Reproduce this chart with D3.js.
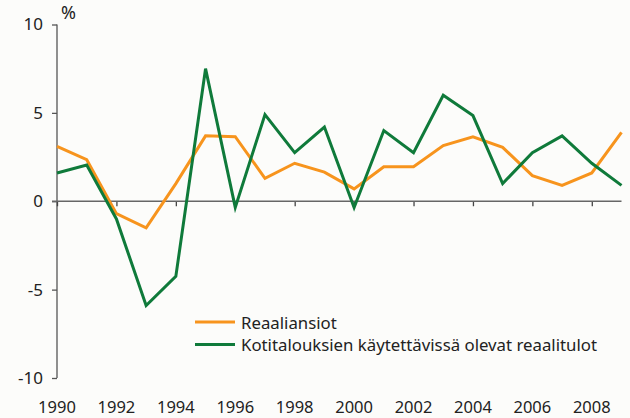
<!DOCTYPE html>
<html>
<head>
<meta charset="utf-8">
<script src="https://cdn.jsdelivr.net/npm/d3@7"></script>
<style>
  html, body { margin: 0; padding: 0; background: #fcfcfa; }
  svg { display: block; }
</style>
</head>
<body>
<div id="chart"></div>
<script>
// values
const years = d3.range(1990, 2010);
const reaaliansiot = [3.1, 2.35, -0.7, -1.5, 1.0, 3.7, 3.65, 1.3, 2.15, 1.65,
                      0.7, 1.95, 1.95, 3.15, 3.65, 3.05, 1.45, 0.9, 1.6, 3.9];
const reaalitulot = [1.6, 2.05, -1.0, -5.9, -4.25, 7.5, -0.35, 4.9, 2.75, 4.2,
                     -0.35, 4.0, 2.75, 6.0, 4.85, 1.0, 2.75, 3.7, 2.15, 0.9];
const yTicks = [-10, -5, 0, 5, 10];
const xTicks = d3.range(1990, 2009, 2);
const seriesNames = ["Reaaliansiot", "Kotitalouksien käytettävissä olevat reaalitulot"];
const seriesColors = ["#f7941d", "#0f7a3a"];

const width = 630, height = 418;
const margin = {top: 24.5, right: 8, bottom: 40, left: 57};

const svg = d3.select("#chart")
    .append("svg")
    .attr("width", width)
    .attr("height", height)
    .style("font-family", "'Noto Sans', sans-serif");

const x = d3.scaleLinear()
    .domain([1990, 2009])
    .range([margin.left, 621.5]);
const y = d3.scaleLinear()
    .domain([-10, 10])
    .range([378, 24.5]);

// y axis
const yAxis = svg.append("g")
    .attr("transform", `translate(${margin.left},0)`)
    .call(d3.axisLeft(y).tickValues(yTicks).tickSize(5).tickPadding(9)
        .tickFormat(d => String(d)));
yAxis.select(".domain").remove();
yAxis.append("line")
    .attr("x1", 0).attr("x2", 0)
    .attr("y1", y(10)).attr("y2", y(-10))
    .attr("stroke", "#555").attr("stroke-width", 1.3);
yAxis.selectAll(".tick line").attr("stroke", "#555").attr("stroke-width", 1.3);
yAxis.selectAll(".tick text")
    .style("font-size", "17px")
    .attr("fill", "#222")
    .attr("font-family", "'Noto Sans', sans-serif");

// x axis along zero line
const xAxis = svg.append("g")
    .attr("transform", `translate(0,${y(0)})`)
    .call(d3.axisBottom(x).tickValues(xTicks).tickSize(5).tickFormat(d3.format("d")));
xAxis.select(".domain").remove();
xAxis.append("line")
    .attr("x1", margin.left - 5).attr("x2", x(2009))
    .attr("stroke", "#666").attr("stroke-width", 1.5);
xAxis.selectAll(".tick line").attr("stroke", "#444").attr("stroke-width", 1.3);
xAxis.selectAll(".tick text").remove();

// year labels at the bottom
svg.append("g")
    .selectAll("text")
    .data(xTicks)
    .join("text")
    .attr("x", d => x(d))
    .attr("y", 412.5)
    .attr("text-anchor", "middle")
    .attr("fill", "#222")
    .style("font-size", "16.5px")
    .text(d => d);

// unit label
svg.append("text")
    .attr("x", 61)
    .attr("y", 19)
    .attr("fill", "#222")
    .style("font-size", "18px")
    .text("%");

// lines
const line = d3.line()
    .x((d, i) => x(years[i]))
    .y(d => y(d));

[reaaliansiot, reaalitulot].forEach((vals, i) => {
    svg.append("path")
        .datum(vals)
        .attr("fill", "none")
        .attr("stroke", seriesColors[i])
        .attr("stroke-width", 3)
        .attr("stroke-linejoin", "miter")
        .attr("d", line);
});

// legend
const legend = svg.append("g").attr("transform", "translate(195,322)");
seriesNames.forEach((name, i) => {
    const g = legend.append("g").attr("transform", `translate(0,${i * 22.5})`);
    g.append("line")
        .attr("x1", 0).attr("x2", 40)
        .attr("stroke", seriesColors[i])
        .attr("stroke-width", 3);
    g.append("text")
        .attr("x", 46)
        .attr("y", 6.5)
        .attr("fill", "#222")
        .style("font-size", "16.8px")
        .text(name);
});
</script>
</body>
</html>
